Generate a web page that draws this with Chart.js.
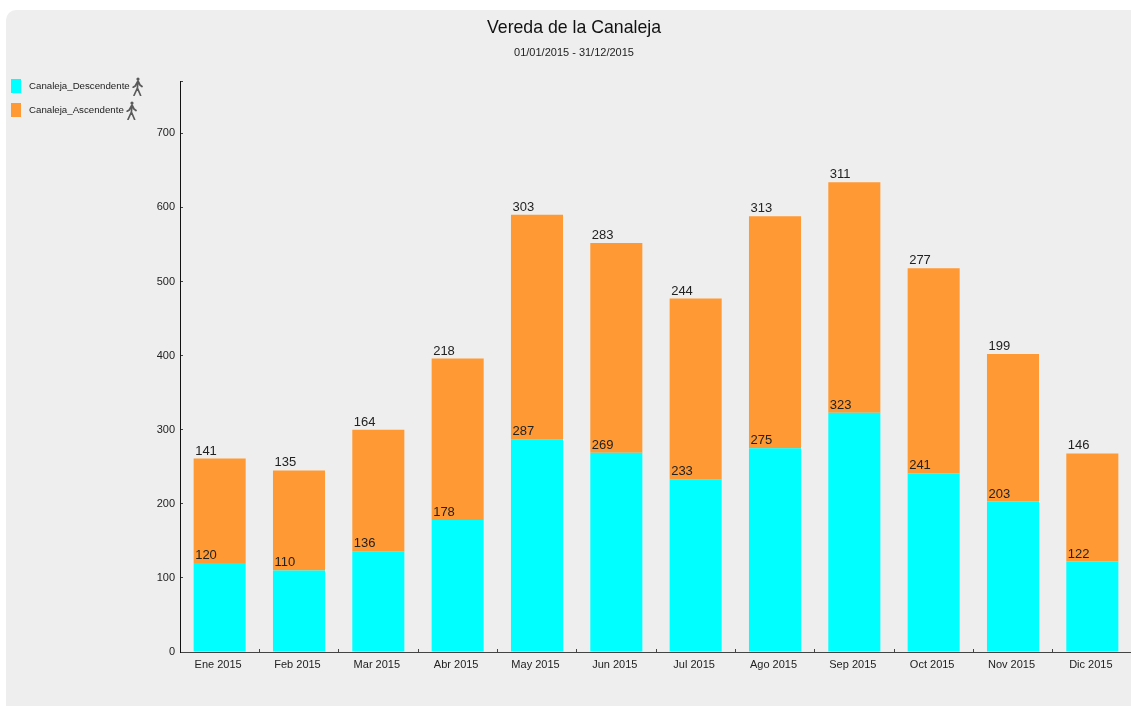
<!DOCTYPE html>
<html>
<head>
<meta charset="utf-8">
<title>Vereda de la Canaleja</title>
<script src="https://cdn.jsdelivr.net/npm/chart.js"></script>
<style>
    html, body { margin: 0; padding: 0; width: 1131px; height: 706px; overflow: hidden; background: #fff; }
    body { font-family: "Liberation Sans", Arial, sans-serif; }
    #panel { position: absolute; left: 6px; top: 10px; width: 1125px; height: 696px; background: #eeeeee; border-radius: 10px 0 0 0; }
    #wrap { position: absolute; left: 16px; top: 0; width: 1116px; height: 706px; }
    #legend { position: absolute; left: 11px; top: 73px; }
    .item { position: relative; height: 24px; white-space: nowrap; font-size: 9.7px; color: #222; }
    .swatch { position: absolute; left: 0; top: 6px; width: 9.5px; height: 14px; }
    .name { position: absolute; left: 18px; top: 6.5px; line-height: 12px; }
    .walker { position: absolute; top: 4px; width: 11px; height: 19px; }
</style>
</head>
<body>
<div id="panel"></div>
<div id="wrap"><canvas id="chart"></canvas></div>
<div id="legend"></div>
<script>
const titleText = 'Vereda de la Canaleja';
const subtitleText = '01/01/2015 - 31/12/2015';
const months = ['Ene 2015', 'Feb 2015', 'Mar 2015', 'Abr 2015', 'May 2015', 'Jun 2015', 'Jul 2015', 'Ago 2015', 'Sep 2015', 'Oct 2015', 'Nov 2015', 'Dic 2015'];
const descendente = [120, 110, 136, 178, 287, 269, 233, 275, 323, 241, 203, 122];
const ascendente = [141, 135, 164, 218, 303, 283, 244, 313, 311, 277, 199, 146];
const seriesNames = ['Canaleja_Descendente', 'Canaleja_Ascendente'];
const seriesColors = ['#00ffff', '#ff9933'];
const yMax = 770;

const fontFamily = '"Liberation Sans", Arial, sans-serif';

// value printed just above each bar, aligned to the bar's left side
const barLabels = {
    id: 'barLabels',
    afterDatasetsDraw(chart) {
        const ctx = chart.ctx;
        ctx.save();
        ctx.font = '13px ' + fontFamily;
        ctx.fillStyle = '#222';
        ctx.textAlign = 'left';
        ctx.textBaseline = 'alphabetic';
        chart.data.datasets.forEach((ds, i) => {
            chart.getDatasetMeta(i).data.forEach((bar, j) => {
                ctx.fillText(ds.data[j], bar.x - bar.width / 2 + 1.5, bar.y - 4);
            });
        });
        ctx.restore();
    }
};

new Chart(document.getElementById('chart'), {
    type: 'bar',
    data: {
        labels: months,
        datasets: [
            { label: seriesNames[0], data: descendente, backgroundColor: seriesColors[0] },
            { label: seriesNames[1], data: ascendente, backgroundColor: seriesColors[1] }
        ]
    },
    options: {
        responsive: true,
        maintainAspectRatio: false,
        animation: false,
        barPercentage: 0.656,
        categoryPercentage: 1,
        layout: { padding: 0 },
        plugins: {
            legend: { display: false },
            tooltip: { enabled: false },
            title: {
                display: true,
                text: titleText,
                color: '#111',
                font: { family: fontFamily, size: 17.7, weight: 'normal' },
                padding: { top: 17.5, bottom: 8 }
            },
            subtitle: {
                display: true,
                text: subtitleText,
                color: '#222',
                font: { family: fontFamily, size: 11, weight: 'normal' },
                padding: { top: 0, bottom: 21.5 }
            }
        },
        scales: {
            x: {
                stacked: true,
                afterFit(scale) { scale.height = 54; },
                border: { color: '#444', width: 1 },
                grid: { drawOnChartArea: false, tickLength: -3, tickColor: '#444' },
                ticks: {
                    color: '#222',
                    font: { family: fontFamily, size: 11 },
                    padding: 9,
                    labelOffset: -1.5,
                    maxRotation: 0,
                    autoSkip: false
                }
            },
            y: {
                stacked: true,
                min: 0,
                max: yMax,
                afterFit(scale) { scale.width = 164; },
                border: { color: '#111', width: 1 },
                grid: { drawOnChartArea: false, tickLength: -3, tickColor: '#444' },
                ticks: {
                    stepSize: 100,
                    color: '#222',
                    font: { family: fontFamily, size: 11 },
                    padding: 8,
                    callback: v => (v % 100 === 0 ? v : '')
                }
            }
        }
    },
    plugins: [barLabels]
});

// side legend, the little walker sits right after each name
const walkerSvg = '<svg class="walker" viewBox="0 0 11 19" xmlns="http://www.w3.org/2000/svg">' +
    '<circle cx="6" cy="2" r="1.6" fill="#5a5a5a"/>' +
    '<path d="M6 4 L3.2 9 L1.2 10.2 M6 4 L8 8 L10 9.5 M6 4 L5.4 11 L2 18.5 M5.4 11 L8.6 18.5" fill="none" stroke="#5a5a5a" stroke-width="1.7" stroke-linecap="round" stroke-linejoin="round"/>' +
    '</svg>';
const legendBox = document.getElementById('legend');
seriesNames.forEach((name, i) => {
    const item = document.createElement('div');
    item.className = 'item';
    item.innerHTML = '<span class="swatch" style="background:' + seriesColors[i] + '"></span>' +
        '<span class="name">' + name + '</span>' + walkerSvg;
    legendBox.appendChild(item);
    const nameEl = item.querySelector('.name');
    item.querySelector('.walker').style.left = (18 + nameEl.offsetWidth + 2) + 'px';
});
</script>
</body>
</html>
